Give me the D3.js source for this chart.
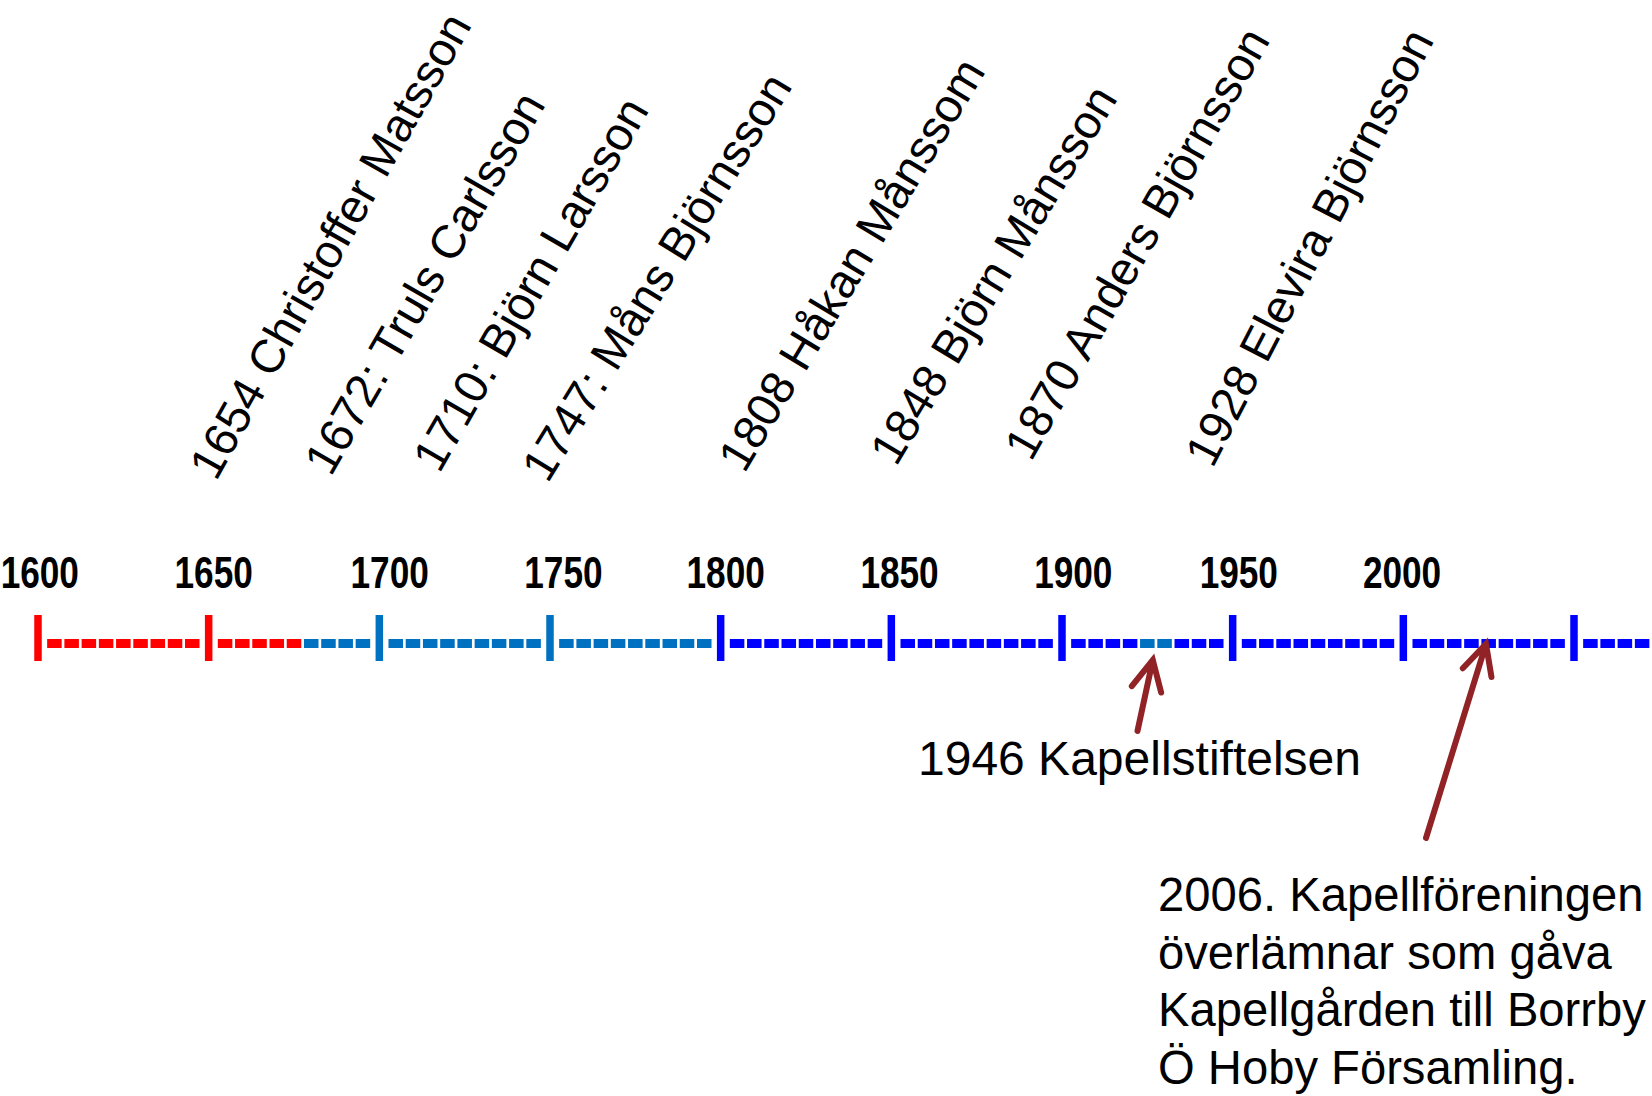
<!DOCTYPE html>
<html>
<head>
<meta charset="utf-8">
<script src="https://cdn.jsdelivr.net/npm/d3@7"></script>
<style>
  html, body { margin: 0; padding: 0; background: #ffffff; }
  svg { display: block; }
</style>
</head>
<body>
<svg id="chart" width="1652" height="1096"></svg>
<script>
// ---------------- DATA ----------------
const tickYears = [1600, 1650, 1700, 1750, 1800, 1850, 1900, 1950, 2000, 2050];
const tickLabels = ["1600", "1650", "1700", "1750", "1800", "1850", "1900", "1950", "2000", ""];

// coloured periods of the time line
const periodStart = [1600, 1678, 1800, 1922, 1934];
const periodEnd   = [1678, 1800, 1922, 1934, 2100];
const periodKind  = ["early", "middle", "late", "middle", "late"];

// owners
const eventYears = [1654, 1672, 1710, 1747, 1808, 1848, 1870, 1928];
const eventNames = [
  "1654 Christoffer Matsson",
  "1672: Truls Carlsson",
  "1710: Björn Larsson",
  "1747: Måns Björnsson",
  "1808 Håkan Månssom",
  "1848 Björn Månsson",
  "1870 Anders Björnsson",
  "1928 Elevira Björnsson"
];

// annotations below the line
const noteYears = [1946, 2006];
const noteLines = [
  ["1946 Kapellstiftelsen"],
  ["2006. Kapellföreningen", "överlämnar som gåva", "Kapellgården till Borrby", "Ö Hoby Församling."]
];

// ---------------- STYLE / LAYOUT ----------------
const kindColor = { early: "#FF0000", middle: "#0070C0", late: "#0000FF" };
const arrowColor = "#912327";
const font = "'Liberation Sans', Arial, Helvetica, sans-serif";

const svg = d3.select("#chart");
const x = d3.scaleLinear().domain([1600, 2050]).range([38, 1574]);

const axisY = 643.5;
const tickH = 46, tickW = 7.5;
const dashH = 9, edgeGap = 5.4, dashGap = 2.7, dashesPerInterval = 9;

function kindOf(year) {
  for (let i = 0; i < periodStart.length; i++) {
    if (year >= periodStart[i] && year < periodEnd[i]) return periodKind[i];
  }
  return periodKind[periodKind.length - 1];
}

// dashes
const dashData = [];
for (let y0 = 1600; y0 < 2100; y0 += 50) {
  const a = x(y0) + tickW / 2 + edgeGap;
  const b = x(y0 + 50) - tickW / 2 - edgeGap;
  const d = ((b - a) - dashGap * (dashesPerInterval - 1)) / dashesPerInterval;
  for (let k = 0; k < dashesPerInterval; k++) {
    const s = a + k * (d + dashGap);
    const mid = x.invert(s + d / 2);
    dashData.push({ s, w: d, kind: kindOf(mid) });
  }
}
svg.append("g").selectAll("rect").data(dashData).join("rect")
  .attr("x", d => d.s).attr("y", axisY - dashH / 2)
  .attr("width", d => d.w).attr("height", dashH)
  .attr("fill", d => kindColor[d.kind]);

// ticks
svg.append("g").selectAll("rect").data(tickYears).join("rect")
  .attr("x", d => x(d) - tickW / 2).attr("y", axisY - 28.5)
  .attr("width", tickW).attr("height", tickH)
  .attr("fill", d => kindColor[kindOf(d)]);

// tick labels (bold, condensed)
const tickLabelDx = [1.8, 5, 10.3, 13.4, 5, 8.2, 11.3, 6.1, -1.3, 0];
svg.append("g").selectAll("text").data(tickYears).join("text")
  .attr("transform", (d, i) => `translate(${x(d) + tickLabelDx[i]},588) scale(0.8,1)`)
  .attr("text-anchor", "middle")
  .attr("font-family", font).attr("font-weight", "bold").attr("font-size", 44)
  .attr("fill", "#000")
  .text((d, i) => tickLabels[i]);

// rotated owner labels
const labelDx = [-6.4, 47.1, 25.9, 7.7, -3.8, 11.4, 71.3, 54.9];
const labelBase = [482, 477.6, 474.2, 484.2, 474.2, 467.6, 462.6, 469.2];
const labelAngle = [60.7, 60, 60, 58.3, 59, 58.9, 60.4, 62.6];
svg.append("g").selectAll("text").data(eventYears).join("text")
  .attr("transform", (d, i) => `translate(${x(d) + labelDx[i]},${labelBase[i]}) rotate(${-labelAngle[i]})`)
  .attr("font-family", font).attr("font-size", 47).attr("fill", "#000")
  .text((d, i) => eventNames[i]);

// arrows
const arrows = [
  { tail: [1137.5, 731], tip: [1152.8, 660] },
  { tail: [1426, 838], tip: [1486, 644] }
];
function arrowPath(a) {
  const [tx, ty] = a.tail, [px, py] = a.tip;
  const L = Math.hypot(px - tx, py - ty);
  const ux = (px - tx) / L, uy = (py - ty) / L;
  const hl = 30, hw = 15;
  const w1 = [px - ux * hl - uy * hw, py - uy * hl + ux * hw];
  const w2 = [px - ux * hl + uy * hw, py - uy * hl - ux * hw];
  return `M${tx},${ty}L${px},${py}M${w1[0]},${w1[1]}L${px},${py}L${w2[0]},${w2[1]}`;
}
svg.append("g").selectAll("path").data(arrows).join("path")
  .attr("d", arrowPath)
  .attr("fill", "none").attr("stroke", arrowColor).attr("stroke-width", 6)
  .attr("stroke-linecap", "round").attr("stroke-linejoin", "miter");

// annotation texts
const notePos = [{ x: 918, y: 775 }, { x: 1158, y: 911 }];
const noteSize = [48, 47.2];
const noteG = svg.append("g").selectAll("text").data(noteYears).join("text")
  .attr("font-family", font).attr("font-size", (d, i) => noteSize[i]).attr("fill", "#000")
  .attr("x", (d, i) => notePos[i].x).attr("y", (d, i) => notePos[i].y);
noteG.selectAll("tspan").data((d, i) => noteLines[i].map(t => ({ t, x: notePos[i].x })))
  .join("tspan")
  .attr("x", d => d.x).attr("dy", (d, j) => j === 0 ? 0 : 57.5)
  .text(d => d.t);
</script>
</body>
</html>
